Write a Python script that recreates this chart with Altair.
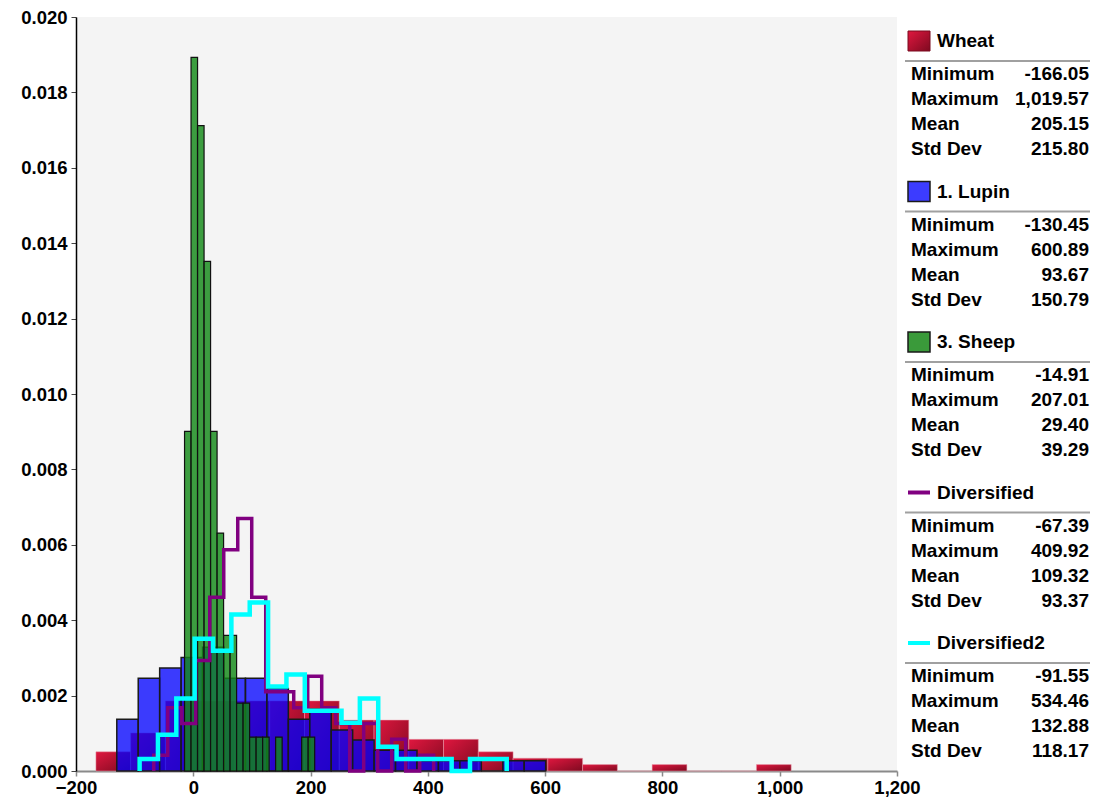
import altair as alt
import pandas as pd
import numpy as np

# ---------------- data ----------------
series_names = ["Wheat", "1. Lupin", "3. Sheep", "Diversified", "Diversified2"]
stat_min = [-166.05, -130.45, -14.91, -67.39, -91.55]
stat_max = [1019.57, 600.89, 207.01, 409.92, 534.46]
stat_mean = [205.15, 93.67, 29.40, 109.32, 132.88]
stat_sd = [215.80, 150.79, 39.29, 93.37, 118.17]
n_bins = 20

# bar heights (density), 20 bins per series
wheat_density = [0.00051, 0.00101, 0.00186, 0.00186, 0.00186, 0.00186, 0.00186,
                 0.00135, 0.00135, 0.00084, 0.00084, 0.00051, 0.00034, 0.00034,
                 0.00017, 0.0, 0.00017, 0.0, 0.0, 0.00017]
lupin_density = [0.00137, 0.00246, 0.00273, 0.00301, 0.00328, 0.00246, 0.00246,
                 0.00219, 0.00137, 0.00164, 0.00109, 0.00082, 0.00055, 0.00055,
                 0.00027, 0.00027, 0.00027, 0.0, 0.00027, 0.00027]
sheep_density = [0.00901, 0.01893, 0.01712, 0.01352, 0.00901, 0.00631, 0.00360,
                 0.00360, 0.00180, 0.00180, 0.00090, 0.00090, 0.00090, 0.0,
                 0.00090, 0.0, 0.0, 0.0, 0.00090, 0.00090]
div_density = [0.00042, 0.00168, 0.00126, 0.00293, 0.00461, 0.00587, 0.00670,
               0.00461, 0.00210, 0.00210, 0.00168, 0.00251, 0.00168, 0.00126,
               0.0, 0.00126, 0.0, 0.00084, 0.0, 0.00042]
div2_density = [0.00032, 0.00096, 0.00192, 0.00351, 0.00319, 0.00415, 0.00447,
                0.00224, 0.00256, 0.00160, 0.00160, 0.00128, 0.00192, 0.00064,
                0.00032, 0.00032, 0.00032, 0.0, 0.00032, 0.00032]

x_ticks = [-200, 0, 200, 400, 600, 800, 1000, 1200]
y_ticks = [0.000, 0.002, 0.004, 0.006, 0.008, 0.010, 0.012, 0.014, 0.016, 0.018, 0.020]

FONT = "Liberation Sans"
W, H = 821, 754
LW = 187


def bar_frame(idx, dens):
    edges = np.linspace(stat_min[idx], stat_max[idx], n_bins + 1)
    return pd.DataFrame({"x0": edges[:-1], "x1": edges[1:], "d": dens})


def step_frame(idx, dens):
    edges = np.linspace(stat_min[idx], stat_max[idx], n_bins + 1)
    xs = [edges[0]] + list(edges[:-1]) + [edges[-1], edges[-1]]
    ys = [0.0] + list(dens) + [dens[-1], 0.0]
    return pd.DataFrame({"x": xs, "d": ys, "i": list(range(len(xs)))})


xscale = alt.Scale(domain=[-200, 1200], nice=False, zero=False)
yscale = alt.Scale(domain=[0, 0.020], nice=False, zero=True)

xaxis = alt.Axis(values=x_ticks, format=",d", title=None, grid=False,
                 labelFont=FONT, labelFontSize=18.5, labelFontWeight="bold",
                 labelColor="black", domainColor="#8a8a8a", domainWidth=2,
                 tickColor="#8a8a8a", tickSize=5, tickWidth=1.5, labelPadding=2,
                 labelFlush=False)
yaxis = alt.Axis(values=y_ticks, format=".3f", title=None, grid=False,
                 labelFont=FONT, labelFontSize=18.5, labelFontWeight="bold",
                 labelColor="black", domainColor="black", domainWidth=1.5,
                 tickColor="#444", tickSize=5, labelPadding=4,
                 minExtent=60, maxExtent=60)

red_grad = alt.Gradient(gradient="linear",
                        stops=[alt.GradientStop(color="#e0173f", offset=0),
                               alt.GradientStop(color="#7e0a20", offset=1)],
                        x1=0, y1=0, x2=1, y2=1)


def bars(df, **mark):
    return alt.Chart(df).mark_rect(**mark).encode(
        x=alt.X("x0:Q", scale=xscale, axis=xaxis),
        x2="x1:Q",
        y=alt.Y("d:Q", scale=yscale, axis=yaxis),
        y2=alt.datum(0),
    )


def steps(df, color, width):
    return alt.Chart(df).mark_line(interpolate="step-after", color=color,
                                   strokeWidth=width, strokeJoin="miter").encode(
        x=alt.X("x:Q", scale=xscale, axis=xaxis),
        y=alt.Y("d:Q", scale=yscale, axis=yaxis),
        order="i:Q",
    )


wheat = bars(bar_frame(0, wheat_density), color=red_grad, stroke="#e8a0ae",
             strokeWidth=0.5)
lupin = bars(bar_frame(1, lupin_density), fill="#0000ff", fillOpacity=0.76,
             stroke="#1a1a1a", strokeWidth=1.5)
sheep = bars(bar_frame(2, sheep_density), fill="#148a18", fillOpacity=0.82,
             stroke="#111111", strokeWidth=1.2)
div = steps(step_frame(3, div_density), "#800080", 3.5)
div2 = steps(step_frame(4, div2_density), "#00ffff", 4.5)

main = alt.layer(wheat, lupin, sheep, div, div2).properties(
    width=W, height=H,
    view=alt.ViewBackground(fill="#f4f4f4", stroke=None),
)

# ---------------- legend panel ----------------
GAP = 150.5
stat_labels = ["Minimum", "Maximum", "Mean", "Std Dev"]
rows = []
for g, name in enumerate(series_names):
    vals = [stat_min[g], stat_max[g], stat_mean[g], stat_sd[g]]
    for r, (lab, v) in enumerate(zip(stat_labels, vals)):
        rows.append({"y": 57 + g * GAP + r * 25, "label": lab,
                     "value": f"{v:,.2f}"})
stats_df = pd.DataFrame(rows)
title_df = pd.DataFrame({"y": [24 + g * GAP for g in range(5)],
                         "name": series_names})
sep_df = pd.DataFrame({"y": [44 + g * GAP for g in range(5)]})

lx = alt.Scale(domain=[0, LW], nice=False, zero=False)
ly = alt.Scale(domain=[0, H], nice=False, zero=False, reverse=True)

txt = dict(font=FONT, fontSize=19, fontWeight="bold", color="black",
           baseline="middle")
titles = alt.Chart(title_df).mark_text(align="left", **txt).encode(
    x=alt.X("x:Q", scale=lx, axis=None), y=alt.Y("y:Q", scale=ly, axis=None),
    text="name:N").transform_calculate(x="34")
labels = alt.Chart(stats_df).mark_text(align="left", **txt).encode(
    x=alt.X("x:Q", scale=lx, axis=None), y=alt.Y("y:Q", scale=ly, axis=None),
    text="label:N").transform_calculate(x="8")
values = alt.Chart(stats_df).mark_text(align="right", **txt).encode(
    x=alt.X("x:Q", scale=lx, axis=None), y=alt.Y("y:Q", scale=ly, axis=None),
    text="value:N").transform_calculate(x="186")
seps = alt.Chart(sep_df).mark_rule(color="#a0a0a0", strokeWidth=2).encode(
    x=alt.X("a:Q", scale=lx, axis=None), x2="b:Q",
    y=alt.Y("y:Q", scale=ly, axis=None)).transform_calculate(a="2", b=str(LW))

sw_bar_df = pd.DataFrame({"y": [14 + g * GAP for g in range(3)], "g": [0, 1, 2]})
sw_base = alt.Chart(sw_bar_df).encode(
    x=alt.X("a:Q", scale=lx, axis=None), x2="b:Q",
    y=alt.Y("y:Q", scale=ly, axis=None), y2="y2:Q",
).transform_calculate(a="5", b="27", y2="datum.y + 20")
sw_wheat = sw_base.transform_filter("datum.g == 0").mark_rect(
    color=red_grad, stroke="#7a0a1e", strokeWidth=1)
sw_lupin = sw_base.transform_filter("datum.g == 1").mark_rect(
    fill="#3c3cff", stroke="#1a1a1a", strokeWidth=1.5)
sw_sheep = sw_base.transform_filter("datum.g == 2").mark_rect(
    fill="#3a9a3a", stroke="#1a1a1a", strokeWidth=1.5)

sw_line_df = pd.DataFrame({"y": [24 + g * GAP for g in (3, 4)],
                           "c": ["#800080", "#00ffff"]})
sw_lines = alt.Chart(sw_line_df).mark_rule(strokeWidth=4).encode(
    x=alt.X("a:Q", scale=lx, axis=None), x2="b:Q",
    y=alt.Y("y:Q", scale=ly, axis=None),
    color=alt.Color("c:N", scale=None),
).transform_calculate(a="5", b="27")

legend = alt.layer(seps, sw_wheat, sw_lupin, sw_sheep, sw_lines, titles,
                   labels, values).properties(
    width=LW, height=H, view=alt.ViewBackground(fill=None, stroke=None))

chart = alt.hconcat(main, legend, spacing=6, bounds="flush").properties(
    padding={"left": 8, "top": 0, "right": 0, "bottom": 0},
    background="white",
)

chart.save("out.html", embed_options={"renderer": "svg", "actions": False})
